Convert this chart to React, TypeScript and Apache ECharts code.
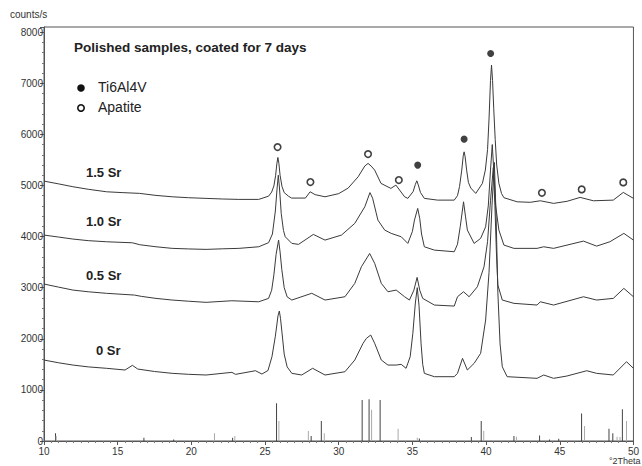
import React, { useEffect, useRef } from "react";
import * as echarts from "echarts";

// 2theta (deg), counts/s
const trace15: [number, number][] = [
  [10, 5085], [11.0, 5030], [11.96, 4975], [13.0, 4925], [14.25, 4876], [15.3, 4860], [16.48, 4845], [17.6, 4805], [18.7, 4778], [19.8, 4760], [21.0, 4747], [22.1, 4735], [23.22, 4727], [24.57, 4727],
  [25.24, 4790], [25.45, 4870], [25.6, 4990], [25.72, 5200], [25.8, 5420], [25.87, 5548], [25.94, 5430], [26.02, 5200], [26.15, 4980], [26.3, 4860], [26.59, 4790], [26.8, 4753],
  [27.74, 4753], [28.06, 4876], [28.4, 4820], [29.07, 4778], [30.0, 4840], [30.64, 4948], [31.32, 5170], [31.77, 5380], [31.99, 5431], [32.2, 5380], [32.44, 5300], [32.87, 5040],
  [33.54, 4942], [33.88, 5007], [34.47, 4778], [34.69, 4747], [35.05, 4880], [35.2, 5020], [35.3, 5091], [35.4, 5010], [35.55, 4860], [35.81, 4747], [36.71, 4713], [37.84, 4713],
  [38.06, 4800], [38.2, 4980], [38.35, 5300], [38.45, 5580], [38.51, 5658], [38.58, 5560], [38.68, 5300], [38.8, 5060], [38.96, 4950], [39.3, 4844], [39.75, 5040], [39.95, 5300],
  [40.1, 5700], [40.2, 6300], [40.3, 7050], [40.37, 7354], [40.44, 7050], [40.52, 6500], [40.62, 5900], [40.72, 5400], [40.87, 5040], [41.05, 4840], [41.21, 4760], [42.11, 4680],
  [43.0, 4670], [43.68, 4700], [44.58, 4649], [45.5, 4690], [46.38, 4766], [47.28, 4700], [48.63, 4713], [49.31, 4864], [50, 4747],
];

const trace10: [number, number][] = [
  [10, 4029], [11.0, 3990], [11.96, 3951], [13.0, 3920], [14.25, 3898], [16.0, 3878], [16.5, 3840], [17.6, 3800], [18.7, 3769], [19.8, 3758], [21.0, 3749], [22.1, 3760], [23.22, 3769], [24.57, 3800],
  [25.24, 3880], [25.5, 4050], [25.7, 4500], [25.82, 4950], [25.9, 5200], [25.98, 4950], [26.1, 4450], [26.25, 4120], [26.37, 3996], [26.82, 3866], [27.27, 3847], [28.28, 4042],
  [29.07, 3931], [30.19, 4029], [31.09, 4258], [31.77, 4582], [32.12, 4860], [32.3, 4750], [32.66, 4322], [33.12, 4127], [33.56, 4062], [34.24, 3996], [34.69, 3866], [35.0, 4100],
  [35.14, 4322], [35.36, 4551], [35.5, 4350], [35.62, 4050], [35.81, 3800], [36.49, 3735], [37.84, 3703], [38.06, 3850], [38.25, 4200], [38.47, 4680], [38.6, 4400], [38.73, 4127],
  [39.19, 3866], [39.63, 3964], [39.97, 4191], [40.15, 4600], [40.3, 5300], [40.42, 5800], [40.52, 5300], [40.65, 4600], [40.87, 4127], [41.21, 3833], [41.89, 3769], [43.46, 3769],
  [43.91, 3800], [44.58, 3769], [46.61, 3911], [47.5, 3813], [48.4, 3898], [49.35, 4062], [50, 3931],
];

const trace05: [number, number][] = [
  [10, 3071], [11.0, 3010], [11.96, 2953], [13.0, 2920], [14.25, 2889], [16.14, 2855], [16.6, 2830], [17.6, 2790], [18.7, 2758], [19.8, 2735], [21.0, 2713], [22.75, 2744], [24.57, 2724],
  [25.24, 2790], [25.45, 2950], [25.6, 3250], [25.75, 3650], [25.92, 3931], [26.02, 3700], [26.14, 3350], [26.3, 3000], [26.5, 2820], [26.82, 2758], [28.17, 2890], [29.07, 2758],
  [30.42, 2822], [31.09, 3084], [31.54, 3409], [32.1, 3669], [32.44, 3475], [32.89, 3084], [33.34, 2920], [33.9, 2953], [34.47, 2822], [34.8, 2758], [35.1, 2950], [35.32, 3201],
  [35.5, 2950], [35.7, 2790], [36.49, 2660], [37.84, 2640], [38.06, 2822], [38.47, 2920], [38.85, 2822], [39.41, 3018], [39.86, 3409], [40.1, 3900], [40.3, 4700], [40.49, 5350],
  [40.6, 4600], [40.7, 3700], [40.8, 3050], [41.1, 2758], [41.89, 2693], [43.46, 2660], [43.68, 2724], [44.58, 2660], [46.61, 2822], [47.5, 2758], [48.63, 2790], [49.35, 2986],
  [50, 2822],
];

const trace00: [number, number][] = [
  [10, 1584], [11.0, 1530], [11.96, 1486], [13.0, 1450], [14.25, 1422], [15.5, 1389], [16.0, 1480], [16.36, 1408], [17.5, 1360], [18.7, 1324], [19.8, 1305], [21.0, 1291], [22.75, 1343],
  [23.0, 1304], [24.35, 1375], [24.79, 1310], [25.2, 1380], [25.47, 1649], [25.7, 2050], [25.88, 2450], [25.97, 2543], [26.05, 2400], [26.14, 2150], [26.3, 1700], [26.5, 1450],
  [26.82, 1324], [27.49, 1291], [28.23, 1422], [29.07, 1291], [30.42, 1355], [31.09, 1584], [31.65, 1911], [31.88, 2009], [32.17, 2073], [32.44, 1911], [32.89, 1584], [33.34, 1486],
  [33.9, 1486], [34.24, 1500], [34.57, 1422], [34.85, 1650], [35.03, 2106], [35.2, 2700], [35.33, 3000], [35.45, 2650], [35.59, 1900], [35.7, 1500], [35.81, 1324], [36.49, 1258],
  [37.84, 1258], [38.06, 1324], [38.4, 1617], [38.73, 1389], [39.19, 1520], [39.63, 1715], [39.97, 2367], [40.2, 3300], [40.4, 4600], [40.56, 5450], [40.68, 4400], [40.8, 2900],
  [40.95, 1900], [41.1, 1453], [41.43, 1258], [43.46, 1226], [43.91, 1291], [44.58, 1226], [45.48, 1271], [46.83, 1375], [47.5, 1324], [48.63, 1291], [49.53, 1551], [50, 1422],
];

const apatiteMarks: [number, number][] = [
  [25.85, 5750], [28.08, 5066], [31.99, 5613], [34.08, 5105], [43.79, 4856], [46.49, 4923], [49.31, 5060],
];
const tiMarks: [number, number][] = [
  [35.36, 5398], [38.51, 5906], [40.31, 7583],
];

const sticksDark: [number, number][] = [
  [10.78, 150], [16.78, 65], [18.8, 30], [22.8, 65], [25.78, 740], [28.13, 100], [28.82, 390], [31.59, 800], [32.06, 815], [32.81, 800],
  [35.47, 50], [39.0, 80], [39.67, 390], [41.89, 100], [43.63, 110], [44.3, 30], [44.93, 45], [46.48, 540], [48.34, 240], [48.6, 150], [49.25, 620],
];
const sticksLight: [number, number][] = [
  [10.83, 100], [21.57, 150], [22.95, 100], [25.94, 390], [27.94, 195], [29.02, 150], [32.23, 610], [34.03, 240], [35.33, 65], [39.84, 195],
  [42.06, 85], [46.68, 295], [48.89, 85], [49.09, 80], [49.53, 390],
];

const sampleLabels = ["1.5 Sr", "1.0 Sr", "0.5 Sr", "0 Sr"];
const titleText = "Polished samples, coated for 7 days";
const legendNames = ["Ti6Al4V", "Apatite"];
const yAxisName = "counts/s";
const xAxisName = "°2Theta";

const FONT = '"Liberation Sans", Arial, Helvetica, sans-serif';

export default function App() {
  const ref = useRef<HTMLDivElement>(null);
  useEffect(() => {
    const chart = echarts.init(ref.current!, null, { renderer: "svg" });
    const lineSeries = (data: [number, number][]) => ({
      type: "line",
      data,
      showSymbol: false,
      smooth: false,
      lineStyle: { color: "#3a3a3a", width: 1 },
      z: 3,
    });
    chart.setOption({
      animation: false,
      textStyle: { fontFamily: FONT },
      grid: { left: 44, right: 5, top: 27, bottom: 25, show: true, borderColor: "#555", borderWidth: 1, backgroundColor: "transparent" },
      xAxis: {
        type: "value",
        min: 10,
        max: 50,
        interval: 5,
        axisLine: { show: true, lineStyle: { color: "#555", width: 1 } },
        axisTick: { show: true, length: 4, lineStyle: { color: "#555" } },
        minorTick: { show: true, splitNumber: 10, length: 2, lineStyle: { color: "#777" } },
        axisLabel: { fontSize: 10, color: "#333", margin: 5, fontFamily: FONT },
        splitLine: { show: false },
      },
      yAxis: {
        type: "value",
        min: 0,
        max: 8100,
        interval: 1000,
        axisLine: { show: true, lineStyle: { color: "#555", width: 1 } },
        axisTick: { show: true, length: 4, lineStyle: { color: "#555" } },
        minorTick: { show: true, splitNumber: 5, length: 2, lineStyle: { color: "#777" } },
        axisLabel: { fontSize: 10, color: "#333", margin: 1, showMaxLabel: false, fontFamily: FONT, formatter: (v: number) => String(v) },
        splitLine: { show: false },
      },
      series: [
        { type: "bar", data: sticksDark, barWidth: 1, barGap: "-100%", itemStyle: { color: "#444" }, z: 2 },
        { type: "bar", data: sticksLight, barWidth: 1, barGap: "-100%", itemStyle: { color: "#aaa" }, z: 2 },
        lineSeries(trace15),
        lineSeries(trace10),
        lineSeries(trace05),
        lineSeries(trace00),
        {
          type: "scatter",
          data: apatiteMarks,
          symbol: "circle",
          symbolSize: 6.5,
          itemStyle: { color: "#fff", borderColor: "#111", borderWidth: 1.6 },
          z: 5,
        },
        {
          type: "scatter",
          data: tiMarks,
          symbol: "circle",
          symbolSize: 7,
          itemStyle: { color: "#111" },
          z: 5,
        },
      ],
      graphic: [
        { type: "text", left: 10, top: 9, style: { text: yAxisName, fontSize: 10, fill: "#333", fontFamily: FONT } },
        { type: "text", left: 609, top: 456, style: { text: xAxisName, fontSize: 9, fill: "#333", fontFamily: FONT } },
        { type: "text", left: 74, top: 40, style: { text: titleText, fontSize: 13.5, fontWeight: "bold", fill: "#222", fontFamily: FONT } },
        { type: "circle", shape: { cx: 81, cy: 88, r: 3.8 }, style: { fill: "#111" } },
        { type: "circle", shape: { cx: 81, cy: 108, r: 3.2 }, style: { fill: "#fff", stroke: "#111", lineWidth: 1.6 } },
        { type: "text", left: 98, top: 80, style: { text: legendNames[0], fontSize: 14, fill: "#222", fontFamily: FONT } },
        { type: "text", left: 98, top: 100, style: { text: legendNames[1], fontSize: 14, fill: "#222", fontFamily: FONT } },
        { type: "text", left: 86, top: 166, style: { text: sampleLabels[0], fontSize: 13, fontWeight: "bold", fill: "#222", fontFamily: FONT } },
        { type: "text", left: 86, top: 215, style: { text: sampleLabels[1], fontSize: 13, fontWeight: "bold", fill: "#222", fontFamily: FONT } },
        { type: "text", left: 86, top: 269, style: { text: sampleLabels[2], fontSize: 13, fontWeight: "bold", fill: "#222", fontFamily: FONT } },
        { type: "text", left: 96, top: 344, style: { text: sampleLabels[3], fontSize: 13, fontWeight: "bold", fill: "#222", fontFamily: FONT } },
      ],
    });
    return () => chart.dispose();
  }, []);
  return <div ref={ref} style={{ position: "absolute", left: 0, top: 0, width: 642, height: 466 }} />;
}
